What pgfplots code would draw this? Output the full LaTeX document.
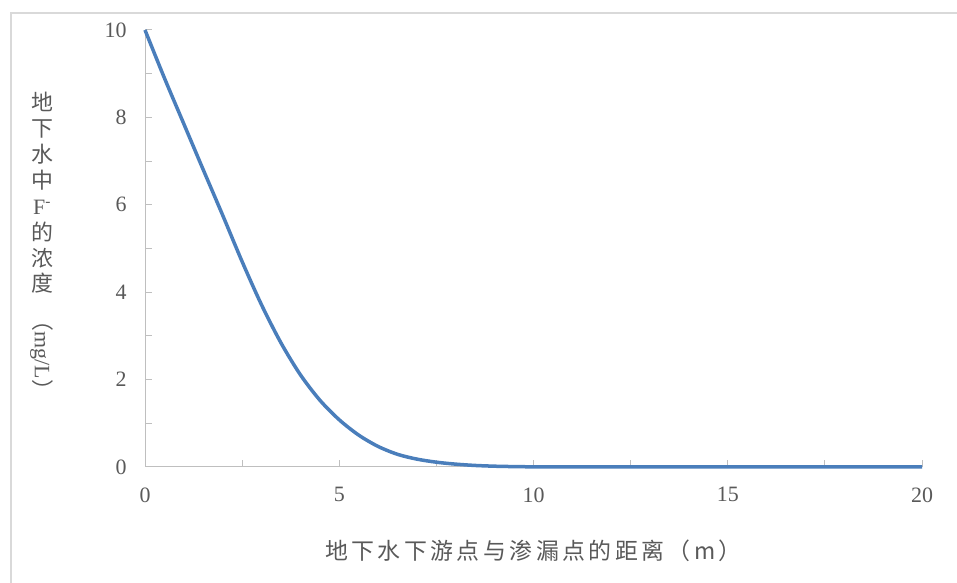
\documentclass[border=0pt]{standalone}
\usepackage{pgfplots}
\pgfplotsset{compat=1.18}
\usepackage{fontspec}
\setmainfont{Liberation Serif}
\newfontfamily\cjk[LetterSpace=15]{Noto Sans CJK SC}
\newfontfamily\cjky{Noto Sans CJK SC}
\definecolor{txt}{HTML}{595959}
\definecolor{axln}{HTML}{BFBFBF}
\definecolor{frm}{HTML}{D9D9D9}
\definecolor{ser}{RGB}{74,126,187}

\begin{document}
\begin{tikzpicture}[x=1bp,y=1bp]
\path[use as bounding box] (0,0) rectangle (957,583);
% light frame of the chart area (only left and top edges are visible)
\draw[frm, line width=2.5bp] (11,-5) -- (11,570) -- (962,570);
\begin{axis}[
    at={(145bp,116bp)}, anchor=south west,
    scale only axis, width=777bp, height=437bp,
    xmin=0, xmax=20, ymin=0, ymax=10,
    axis x line*=bottom, axis y line*=left,
    axis line style={axln, line width=1bp},
    xtick={0,5,10,15,20}, minor xtick={2.5,7.5,12.5,17.5},
    ytick={0,2,4,6,8,10}, minor ytick={1,3,5,7,9},
    tick align=inside,
    major tick length=7bp, minor tick length=7bp,
    tick style={axln, line width=1bp},
    ticklabel style={font=\fontsize{22}{24}\selectfont, text=txt},
    /pgf/number format/assume math mode=true,
    xticklabel shift=17bp,
    yticklabel shift=15bp,
    xlabel={地下水下游点与渗漏点的距离（m）},
    xlabel style={at={(axis description cs:0.5,0)}, anchor=center, yshift=-84bp,
        font=\cjk\fontsize{23}{28}\selectfont, text=txt},
    clip=false,
]
\addplot[ser, line width=3.5bp, smooth] coordinates {
    (0,10) (0.5,8.90) (1,7.85) (1.5,6.80) (2,5.76) (2.5,4.70) (3,3.71)
    (3.5,2.84) (4,2.11) (4.5,1.53) (5,1.08) (5.5,0.73) (6,0.47) (6.5,0.29)
    (7,0.18) (7.5,0.11) (8,0.065) (8.5,0.035) (9,0.018) (9.5,0.009) (10,0.004)
    (11,0.001) (12,0) (13,0) (14,0) (15,0) (16,0) (17,0) (18,0) (19,0) (20,0)
};
\node[anchor=north, align=center, inner sep=0pt, text=txt,
      font=\cjky\fontsize{22}{26}\selectfont]
    at (rel axis cs:0,1) [xshift=-103bp, yshift=-62bp]
    {地\\下\\水\\中\\{\rmfamily F\textsuperscript{-}}\\的\\浓\\度\\[-8bp]%
     \rotatebox{-90}{（{\rmfamily mg/L}）}};
\end{axis}
\end{tikzpicture}
\end{document}
